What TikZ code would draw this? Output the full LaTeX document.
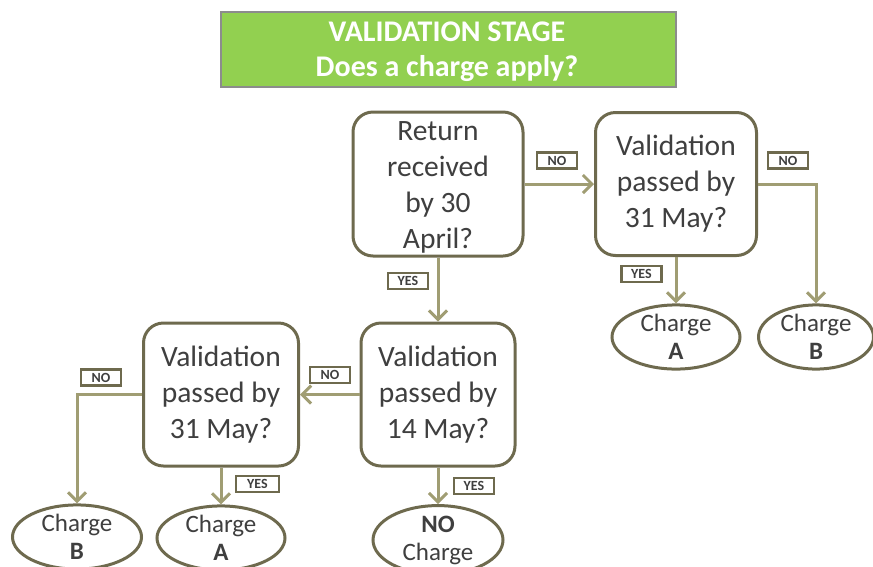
\documentclass[tikz,border=0pt]{standalone}
\usepackage{fontspec}
\setmainfont{Carlito}
\usetikzlibrary{arrows.meta,shapes.geometric}
\definecolor{boxline}{HTML}{6E6A4E}
\definecolor{arrline}{HTML}{A09D73}
\definecolor{txt}{HTML}{3F3F3F}
\definecolor{titlegreen}{HTML}{92D050}
\definecolor{titleline}{HTML}{8C8C8C}
\tikzset{
  qbox/.style={draw=boxline, line width=3pt, rounded corners=20pt, fill=white,
    align=center, text=txt, inner sep=0pt, font=\fontsize{29.5}{36}\selectfont},
  endell/.style={draw=boxline, line width=3pt, ellipse, fill=white, inner sep=0pt,
    align=center, text=txt, font=\fontsize{25}{28}\selectfont},
  lab/.style={draw=boxline, line width=2.5pt, fill=white, inner sep=0pt,
    minimum width=40pt, minimum height=16pt, text=txt, font=\fontsize{14}{14}\selectfont\bfseries},
  arr/.style={draw=arrline, line width=3pt, -{Straight Barb[length=9pt,width=18pt,line width=3pt]}},
}
\begin{document}
\begin{tikzpicture}[x=1pt,y=-1pt]
\useasboundingbox (0,0) rectangle (873,566);
% title
\node[draw=titleline, line width=1.5pt, fill=titlegreen, minimum width=455pt, minimum height=75pt,
  inner sep=0pt] (title) at (448.5,49.5) {};
\node[align=center, text=white, inner sep=0pt, font=\fontsize{30}{35}\selectfont\bfseries]
  (titletext) at (447,52) {VALIDATION STAGE\\Does a charge apply?};
% question boxes
\node[qbox, minimum width=170pt, minimum height=144pt] (b1) at (438,184) {};
\node[align=center, text=txt, inner sep=0pt, font=\fontsize{29.5}{36}\selectfont] (b1t) at (438,187) {Return\\received\\by 30\\April?};
\node[qbox, minimum width=161pt, minimum height=143pt] (b2) at (676,184) {Validation\\passed by\\31 May?};
\node[qbox, minimum width=154pt, minimum height=143pt] (b3) at (438,394.5) {Validation\\passed by\\14 May?};
\node[qbox, minimum width=155pt, minimum height=143pt] (b4) at (221,394.5) {Validation\\passed by\\31 May?};
% end ellipses
\node[endell, minimum width=128pt, minimum height=61pt] (cA1) at (676,337) {Charge\\\textbf{A}};
\node[endell, minimum width=115pt, minimum height=61pt] (cB1) at (816,337) {Charge\\\textbf{B}};
\node[endell, minimum width=129pt, minimum height=60pt] (cB2) at (77,537) {Charge\\\textbf{B}};
\node[endell, minimum width=128pt, minimum height=60pt] (cA2) at (221,538) {Charge\\\textbf{A}};
\node[endell, minimum width=130pt, minimum height=60pt] (cNO) at (438,540) {\textbf{NO}\\Charge};
% connectors
\draw[arr] (b1.east) -- (b2.west);
\draw[arr] (b2.east) -| (cB1.north);
\draw[arr] (b2.south) -- (cA1.north);
\draw[arr] (b1.south) -- (b3.north);
\draw[arr] (b3.west) -- (b4.east);
\draw[arr] (b4.west) -| (cB2.north);
\draw[arr] (b4.south) -- (cA2.north);
\draw[arr] (b3.south) -- (cNO.north);
% labels
\node[lab] (l1) at (557,160.5) {NO};
\node[lab] (l2) at (788,160.5) {NO};
\node[lab] (l3) at (641.5,274) {YES};
\node[lab] (l4) at (408,281) {YES};
\node[lab] (l5) at (330,375) {NO};
\node[lab] (l6) at (101,377.5) {NO};
\node[lab, minimum width=43pt] (l7) at (257.5,484) {YES};
\node[lab] (l8) at (474,486) {YES};
\end{tikzpicture}
\end{document}
